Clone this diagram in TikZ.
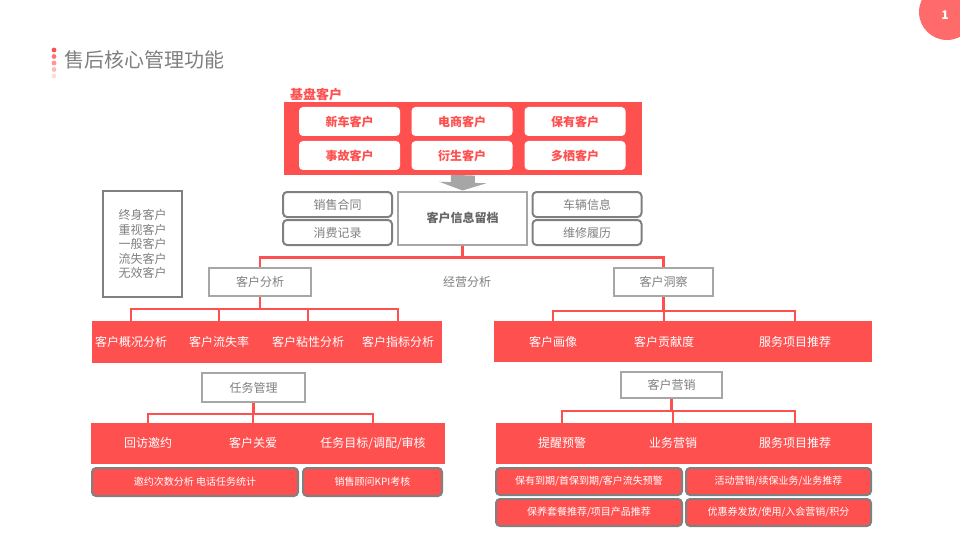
\documentclass[tikz,border=0pt]{standalone}
\usepackage{fontspec}
\setmainfont{Noto Sans CJK SC}
\usetikzlibrary{arrows.meta,positioning}
\definecolor{accentred}{HTML}{FF5050}
\definecolor{badgered}{HTML}{FF6B6B}
\definecolor{textgray}{HTML}{7F7F7F}
\definecolor{darkgray}{HTML}{666666}
\definecolor{framegray}{HTML}{A6A6A6}
\definecolor{edgegray}{HTML}{808080}

\begin{document}
\begin{tikzpicture}[
  x=1pt, y=-1pt,
  every node/.style={font=\fontsize{12}{14}\selectfont, inner sep=0pt},
  band/.style={fill=accentred, draw=none},
  chip/.style={fill=white, rounded corners=4pt, minimum width=101pt, minimum height=29pt,
    text=accentred, font=\fontsize{12}{14}\selectfont\bfseries},
  tag/.style={draw=edgegray, line width=2pt, rounded corners=4pt, minimum width=109pt,
    minimum height=25pt, text=textgray},
  head/.style={draw=framegray, line width=2pt, minimum height=28pt, text=textgray},
  cell/.style={text=white},
  note/.style={fill=accentred, draw=edgegray, line width=2pt, rounded corners=4pt,
    minimum height=27pt, text=white, font=\fontsize{10}{12}\selectfont},
  link/.style={draw=accentred, line width=2.2pt}
]
  \useasboundingbox (0,0) rectangle (960,540);
  \clip (0,0) rectangle (960,540);

  % page badge and title
  \fill[badgered] (947,12) circle (28);
  \node[text=white, font=\fontsize{12}{14}\selectfont\bfseries] (page) at (945,15) {1};
  \foreach \y/\o in {50/1, 56.5/0.8, 63/0.6, 69.5/0.4, 76/0.2}
    \fill[accentred, opacity=\o] (54,\y) circle (2.4);
  \node[anchor=west, text=textgray, font=\fontsize{20}{24}\selectfont] (title) at (64,60) {售后核心管理功能};

  % customer base
  \node[anchor=west, text=accentred, font=\fontsize{13}{15}\selectfont\bfseries] (basetitle) at (290,95) {基盘客户};
  \node[band, minimum width=358pt, minimum height=73pt] (base) at (463,138.5) {};
  \node[chip] (newcar) at (349.5,121.5) {新车客户};
  \node[chip] (online) at (462,121.5) {电商客户};
  \node[chip] (owned) at (575,121.5) {保有客户};
  \node[chip] (accident) at (349.5,155.5) {事故客户};
  \node[chip] (derived) at (462,155.5) {衍生客户};
  \node[chip] (multi) at (575,155.5) {多栖客户};

  % archive
  \node[draw=framegray, line width=2pt, minimum width=129pt, minimum height=53pt,
    text=darkgray, font=\fontsize{12}{14}\selectfont\bfseries] (info) at (462.5,218) {客户信息留档};
  \draw[-{Triangle[width=47pt,length=8pt]}, line width=24pt, framegray] (base.south) -- (info.north);
  \node[tag] (contract) at (337.5,204.5) {销售合同};
  \node[tag] (spend) at (337.5,232.5) {消费记录};
  \node[tag] (vehicle) at (587,204.5) {车辆信息};
  \node[tag] (repair) at (587,232.5) {维修履历};

  \node[draw=edgegray, line width=2pt, minimum width=79pt, minimum height=106pt, align=center,
    text=textgray, font=\fontsize{12}{14.5}\selectfont] (tiers) at (142.5,244)
    {终身客户\\重视客户\\一般客户\\流失客户\\无效客户};

  % analysis
  \node[head, minimum width=102pt] (analysis) at (260,282) {客户分析};
  \node[text=textgray] (business) at (467,282) {经营分析};
  \node[head, minimum width=99pt] (insight) at (663.5,282) {客户洞察};
  \draw[link] (info.south) -- ++(0,12) -| (analysis.north);
  \draw[link] (info.south) -- ++(0,12) -| (insight.north);

  \node[band, minimum width=350pt, minimum height=42pt] (bandA) at (267,342) {};
  \node[cell] (overview) at (131,342) {客户概况分析};
  \node[cell] (churn) at (219,342) {客户流失率};
  \node[cell] (sticky) at (308,342) {客户粘性分析};
  \node[cell] (index) at (398,342) {客户指标分析};
  \foreach \n in {overview,churn,sticky,index}
    \draw[link] (analysis.south) -- ++(0,12) -| (\n |- bandA.north);

  \node[band, minimum width=378pt, minimum height=41pt] (bandB) at (683,341.5) {};
  \node[cell] (portrait) at (553,342) {客户画像};
  \node[cell] (contrib) at (664,342) {客户贡献度};
  \node[cell] (service) at (795,342) {服务项目推荐};
  \foreach \n in {portrait,contrib,service}
    \draw[link] (insight.south) -- ++(0,14) -| (\n |- bandB.north);

  % tasks
  \node[head, minimum width=103pt, minimum height=29pt] (task) at (253.5,387.5) {任务管理};
  \node[band, minimum width=354pt, minimum height=41pt] (bandC) at (268,443.5) {};
  \node[cell] (visit) at (148,443) {回访邀约};
  \node[cell] (care) at (253,443) {客户关爱};
  \node[cell] (goal) at (373,443) {任务目标/调配/审核};
  \foreach \n in {visit,care,goal}
    \draw[link] (task.south) -- ++(0,11) -| (\n |- bandC.north);
  \node[note, minimum width=206pt, minimum height=28pt] (invite) at (195,482) {邀约次数分析 电话任务统计};
  \node[note, minimum width=139pt, minimum height=28pt] (kpi) at (372.5,482) {销售顾问KPI考核};

  % marketing
  \node[head, minimum width=101pt, minimum height=26pt] (market) at (671.5,385) {客户营销};
  \node[band, minimum width=376pt, minimum height=41pt] (bandD) at (684,443.5) {};
  \node[cell] (alert) at (562,443) {提醒预警};
  \node[cell] (promo) at (673,443) {业务营销};
  \node[cell] (recommend) at (795,443) {服务项目推荐};
  \foreach \n in {alert,promo,recommend}
    \draw[link] (market.south) -- ++(0,12) -| (\n |- bandD.north);
  \node[note, minimum width=186pt] (expire) at (589,481.5) {保有到期/首保到期/客户流失预警};
  \node[note, minimum width=185pt] (campaign) at (778.5,481.5) {活动营销/续保业务/业务推荐};
  \node[note, minimum width=186pt] (package) at (589,512.5) {保养套餐推荐/项目产品推荐};
  \node[note, minimum width=185pt] (coupon) at (778.5,512.5) {优惠券发放/使用/入会营销/积分};
\end{tikzpicture}
\end{document}
